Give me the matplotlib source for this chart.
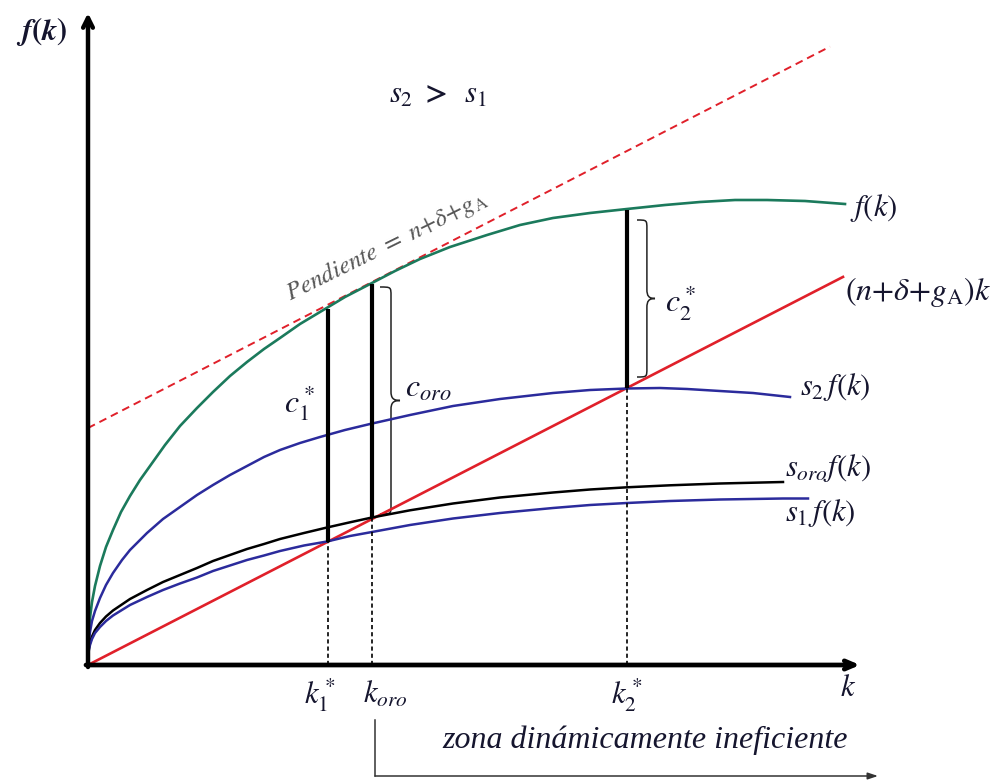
import numpy as np
import matplotlib
matplotlib.use("Agg")
import matplotlib.pyplot as plt
from matplotlib.path import Path
import matplotlib.patches as mpatches

plt.rcParams['mathtext.fontset'] = 'stix'
plt.rcParams['font.family'] = ['Liberation Serif', 'DejaVu Serif']

# ---------- data (diagram units, origin at (0, 0)) ----------
k_f = [0, 0.005, 0.01, 0.02, 0.04, 0.07, 0.12, 0.18, 0.25, 0.33, 0.42, 0.52, 0.62, 0.77,
       0.92, 1.09, 1.25, 1.42, 1.59, 1.76, 1.92, 2.12, 2.32, 2.57, 2.84, 3.07, 3.32, 3.62,
       3.99, 4.32, 4.65, 5.02, 5.39, 5.77, 6.12, 6.47, 6.79, 7.17, 7.57]
f_k = [0, 0.26, 0.35, 0.47, 0.63, 0.79, 0.99, 1.18, 1.35, 1.53, 1.69, 1.85, 1.99, 2.20,
       2.39, 2.57, 2.73, 2.89, 3.03, 3.16, 3.27, 3.41, 3.53, 3.68, 3.82, 3.94, 4.06, 4.18,
       4.30, 4.40, 4.47, 4.52, 4.56, 4.60, 4.63, 4.65, 4.65, 4.64, 4.61]

k_s2 = [0, 0.005, 0.01, 0.02, 0.04, 0.07, 0.12, 0.18, 0.25, 0.34, 0.42, 0.59, 0.75, 0.92,
        1.09, 1.25, 1.42, 1.59, 1.76, 1.92, 2.12, 2.32, 2.57, 2.82, 3.22, 3.65, 4.12, 4.65,
        5.02, 5.39, 5.72, 5.99, 6.32, 6.65, 7.02]
s2_f = [0, 0.18, 0.24, 0.33, 0.44, 0.54, 0.67, 0.80, 0.92, 1.05, 1.15, 1.32, 1.46, 1.58,
        1.70, 1.80, 1.90, 1.99, 2.08, 2.15, 2.22, 2.28, 2.35, 2.41, 2.50, 2.59, 2.66, 2.72,
        2.75, 2.765, 2.77, 2.76, 2.74, 2.72, 2.68]

k_oro = [0, 0.005, 0.01, 0.02, 0.04, 0.07, 0.12, 0.18, 0.25, 0.42, 0.59, 0.75, 0.92, 1.09,
         1.25, 1.42, 1.59, 1.76, 1.92, 2.16, 2.39, 2.62, 2.84, 3.22, 3.65, 4.12, 4.65, 5.02,
         5.39, 5.82, 6.32, 6.95]
soro_f = [0, 0.13, 0.17, 0.22, 0.285, 0.35, 0.42, 0.485, 0.545, 0.66, 0.75, 0.83, 0.90, 0.97,
          1.04, 1.10, 1.16, 1.21, 1.26, 1.32, 1.375, 1.427, 1.475, 1.547, 1.615, 1.675, 1.725,
          1.755, 1.777, 1.797, 1.815, 1.83]

k_s1 = [0, 0.005, 0.01, 0.02, 0.04, 0.07, 0.12, 0.18, 0.25, 0.42, 0.59, 0.75, 0.92, 1.09,
        1.25, 1.42, 1.59, 1.76, 1.92, 2.16, 2.39, 2.62, 2.84, 3.22, 3.65, 4.12, 4.65, 5.02,
        5.39, 5.82, 6.32, 6.95, 7.20]
s1_f = [0, 0.12, 0.155, 0.20, 0.26, 0.32, 0.38, 0.44, 0.495, 0.60, 0.68, 0.75, 0.815, 0.875,
        0.94, 0.995, 1.05, 1.095, 1.14, 1.195, 1.235, 1.29, 1.33, 1.40, 1.465, 1.52, 1.57,
        1.60, 1.62, 1.64, 1.655, 1.665, 1.665]

slope = 0.514          # n + delta + g_A
k_line_end = 7.55
tangent_icpt = 2.37
k_tangent_end = 7.42

k_marks = [2.40, 2.84, 5.39]              # k1*, k_oro, k2*
c_top = [3.56, 3.81, 4.55]                # f(k) at those k
c_bot = [1.23, 1.48, 2.77]                # (n+d+gA)k at those k
k_tick_labels = [r'$k_1^*$', r'$k_{oro}$', r'$k_2^*$']

txt = '#15152e'
green = '#1b7a5c'
blue = '#2b2b9c'
red = '#e0202a'

fig = plt.figure(figsize=(10.03, 7.83), dpi=100)
ax = fig.add_axes([0, 0, 1, 1])
ax.set_xlim(-0.88, 9.15)
ax.set_ylim(-1.18, 6.65)
ax.axis('off')

# axes with arrow heads
ax.annotate('', xy=(0, 6.52), xytext=(0, -0.02),
            arrowprops=dict(arrowstyle='->,head_length=0.7,head_width=0.35', lw=3.2, color='black',
                            shrinkA=0, shrinkB=0))
ax.annotate('', xy=(7.72, 0), xytext=(-0.02, 0),
            arrowprops=dict(arrowstyle='->,head_length=0.7,head_width=0.3', lw=3.4, color='black',
                            shrinkA=0, shrinkB=0))

# curves
kk = np.array([0, k_line_end])
ax.plot(kk, slope * kk, color=red, lw=1.9)
kt = np.array([0, k_tangent_end])
ax.plot(kt, tangent_icpt + slope * kt, color=red, lw=1.4, dashes=(4, 2.6))
ax.plot(k_f, f_k, color=green, lw=1.9)
ax.plot(k_s2, s2_f, color=blue, lw=1.8)
ax.plot(k_oro, soro_f, color='black', lw=1.8)
ax.plot(k_s1, s1_f, color=blue, lw=1.8)

# consumption bars and dashed guides
for k, top, bot in zip(k_marks, c_top, c_bot):
    ax.plot([k, k], [bot, top], color='black', lw=3.0, solid_capstyle='butt')
    ax.plot([k, k], [0, bot], color='black', lw=1.2, dashes=(2.5, 1.8))


def brace(x, y0, y1, w, r=0.09):
    ym = (y0 + y1) / 2
    s = x + w * 0.55
    verts = [(x, y1),
             (s, y1), (s, y1), (s, y1 - r),
             (s, ym + r),
             (s, ym + r * 0.3), (s + w * 0.1, ym), (x + w, ym),
             (s + w * 0.1, ym), (s, ym - r * 0.3), (s, ym - r),
             (s, y0 + r),
             (s, y0), (s, y0), (x, y0)]
    codes = [Path.MOVETO, Path.CURVE4, Path.CURVE4, Path.CURVE4, Path.LINETO,
             Path.CURVE4, Path.CURVE4, Path.CURVE4, Path.CURVE4, Path.CURVE4, Path.CURVE4,
             Path.LINETO, Path.CURVE4, Path.CURVE4, Path.CURVE4]
    ax.add_patch(mpatches.PathPatch(Path(verts, codes), fill=False, lw=1.1, color='#222222'))


brace(k_marks[1] + 0.08, c_bot[1] + 0.03, c_top[1] - 0.03, 0.20)
brace(k_marks[2] + 0.10, c_bot[2] + 0.11, c_top[2] - 0.10, 0.18)

# labels
fs = 22
ax.text(-0.46, 6.33, r'$\boldsymbol{f(k)}$', fontsize=fs, color=txt, ha='center', va='center')
ax.text(7.60, -0.23, r'$k$', fontsize=fs, color=txt, ha='center', va='center')
for k, lab, dx in zip(k_marks, k_tick_labels, [-0.08, 0.13, 0.0]):
    ax.text(k + dx, -0.30, lab, fontsize=fs, color=txt, ha='center', va='center')
ax.text(3.50, 5.70, r'$\boldsymbol{s_2\ >\ \ s_1}$', fontsize=fs, color=txt, ha='center', va='center')

ax.text(7.62, 4.57, r'$f(k)$', fontsize=fs, color=txt, ha='left', va='center')
ax.text(7.57, 3.73, r'$(n{+}\delta{+}g_{\mathrm{A}})k$', fontsize=fs + 1, color=txt, ha='left', va='center')
ax.text(7.12, 2.78, r'$s_2\,f(k)$', fontsize=fs, color=txt, ha='left', va='center')
ax.text(6.97, 1.97, r'$s_{oro}f(k)$', fontsize=fs, color=txt, ha='left', va='center')
ax.text(6.97, 1.52, r'$s_1\,f(k)$', fontsize=fs, color=txt, ha='left', va='center')

ax.text(3.17, 2.76, r'$c_{oro}$', fontsize=fs + 1, color=txt, ha='left', va='center')
ax.text(5.77, 3.63, r'$c_2^*$', fontsize=fs + 1, color=txt, ha='left', va='center')
ax.text(2.12, 2.62, r'$c_1^*$', fontsize=fs + 1, color=txt, ha='center', va='center')

ax.text(2.98, 4.19, r'$Pendiente\ =\ n{+}\delta{+}g_{\mathrm{A}}$', fontsize=18, color='#555555',
        ha='center', va='center', rotation=np.degrees(np.arctan(slope)) - 1, rotation_mode='anchor')

ax.text(5.57, -0.75, 'zona dinámicamente ineficiente', fontsize=23, fontstyle='italic',
        color=txt, ha='center', va='center')
ax.annotate('', xy=(7.90, -1.11), xytext=(k_marks[1] + 0.03, -1.11),
            arrowprops=dict(arrowstyle='-|>,head_length=0.6,head_width=0.2', lw=1.1, color='#333333',
                            shrinkA=0, shrinkB=0))
ax.plot([k_marks[1] + 0.03, k_marks[1] + 0.03], [-0.55, -1.11], color='#333333', lw=1.1)

fig.savefig('out.png', dpi=100)
